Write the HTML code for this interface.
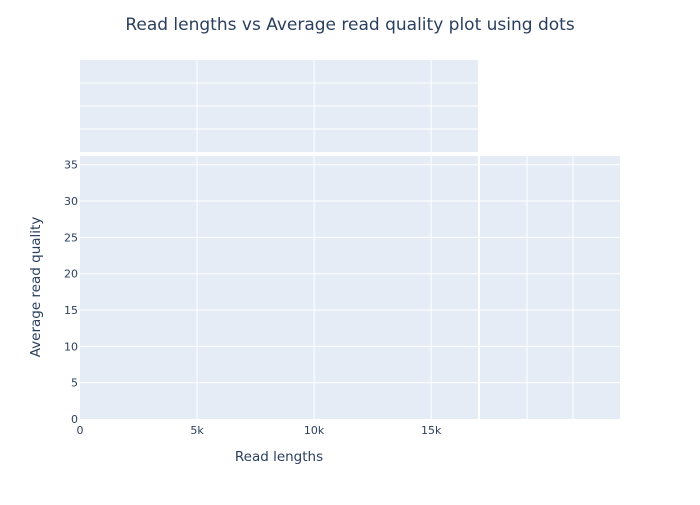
<!DOCTYPE html>
<html><head><meta charset="utf-8"><style>
body{margin:0;background:#fff;}
svg{font-family:"DejaVu Sans","Liberation Sans",sans-serif;}
</style></head><body>
<svg id="chart" width="700" height="500">
<rect width="700" height="500" fill="#fff"/>
<text x="350" y="30" text-anchor="middle" font-size="17" fill="#2a3f5f">Read lengths vs Average read quality plot using dots</text>
<rect x="80" y="60" width="398" height="92" fill="#e5ecf6"/>
<rect x="80" y="156" width="398" height="263" fill="#e5ecf6"/>
<rect x="480" y="156" width="140" height="263" fill="#e5ecf6"/>
<g id="grid"></g>
<g id="ticks" font-size="11" fill="#2a3f5f"></g>
<g id="points"></g>
<text x="279" y="461" text-anchor="middle" font-size="13.5" fill="#2a3f5f">Read lengths</text>
<text transform="translate(40,287) rotate(-90)" text-anchor="middle" font-size="13.5" fill="#2a3f5f">Average read quality</text>
</svg>
<script>
const xTicks=[0,5000,10000,15000];
const xTickLabels=["0","5k","10k","15k"];
const yTicks=[0,5,10,15,20,25,30,35];
const readLengths=[];
const readQualities=[];
const ns="http://www.w3.org/2000/svg";
const X0=80,X1=478,xMax=17000,Y0=419,Y1=156,yMax=36.2;
const xs=v=>X0+(v/xMax)*(X1-X0);
const ys=v=>Y0-(v/yMax)*(Y0-Y1);
function mk(t,a,p){const e=document.createElementNS(ns,t);for(const k in a)e.setAttribute(k,a[k]);p.appendChild(e);return e;}
const g=document.getElementById('grid'),tk=document.getElementById('ticks'),pts=document.getElementById('points');
xTicks.forEach((v,i)=>{
  const x=xs(v);
  if(v>0){
    const l1=mk('line',{x1:x,x2:x,y1:156,y2:419,stroke:'#fff','stroke-width':1},g);
    
    
    const l2=mk('line',{x1:x,x2:x,y1:60,y2:152,stroke:'#fff','stroke-width':1},g);
    
    
  }
  const t=mk('text',{x:x,y:434,'text-anchor':'middle'},tk);t.textContent=xTickLabels[i];
  
  
});
yTicks.forEach(v=>{
  const y=ys(v);
  if(v>0){
    const l=mk('line',{x1:80,x2:620,y1:y,y2:y,stroke:'#fff','stroke-width':1},g);
    
    
  }
  const t=mk('text',{x:78,y:y+4,'text-anchor':'end'},tk);t.textContent=v;
  
  
});
[83,106,129].forEach(y=>{
  const l=mk('line',{x1:80,x2:478,y1:y,y2:y,stroke:'#fff','stroke-width':1},g);
  
  
});
[527,573].forEach(x=>{
  const l=mk('line',{x1:x,x2:x,y1:156,y2:419,stroke:'#fff','stroke-width':1},g);
  
  
});
readLengths.forEach((v,i)=>{
  const c=mk('circle',{cx:xs(v),cy:ys(readQualities[i]),r:3,fill:'#636efa'},pts);
  
  
});
</script>
</body></html>
